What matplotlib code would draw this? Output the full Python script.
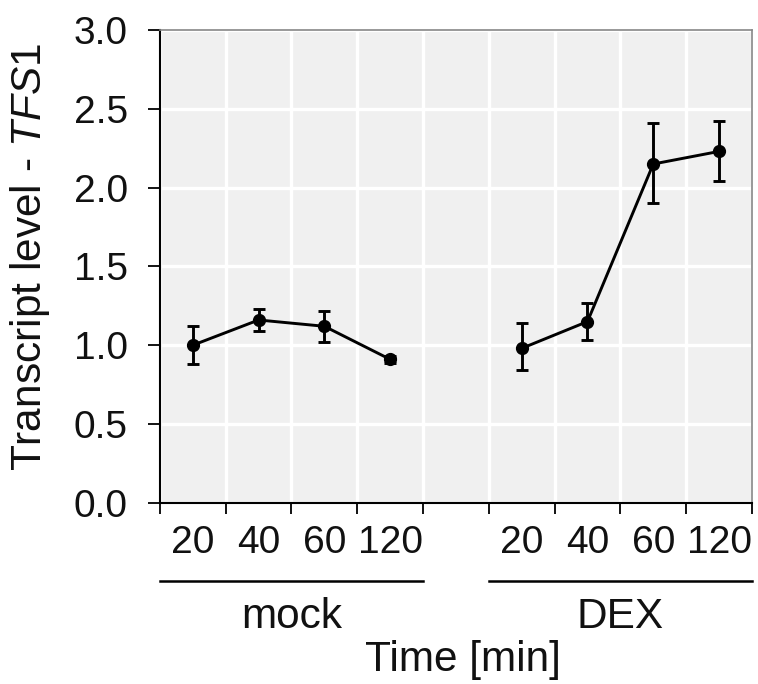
"""Transcript level of TFS1 after mock / DEX treatment, time course."""

import matplotlib

matplotlib.use("Agg")
import matplotlib.pyplot as plt

TIMES = ["20", "40", "60", "120"]
GROUPS = ["mock", "DEX"]
MOCK_MEAN = [1.00, 1.16, 1.12, 0.91]
MOCK_LO = [0.88, 1.09, 1.02, 0.89]
MOCK_HI = [1.12, 1.23, 1.22, 0.93]
DEX_MEAN = [0.98, 1.15, 2.15, 2.23]
DEX_LO = [0.84, 1.03, 1.90, 2.04]
DEX_HI = [1.14, 1.27, 2.41, 2.42]

FONT = "Liberation Sans"
plt.rcParams["font.family"] = [FONT, "DejaVu Sans"]
plt.rcParams["mathtext.fontset"] = "custom"
plt.rcParams["mathtext.rm"] = FONT
plt.rcParams["mathtext.it"] = FONT + ":italic"
TXT = "#111111"


def main() -> None:
    fig = plt.figure(figsize=(7.58, 6.84), dpi=100)
    ax = fig.add_axes([0.211, 0.265, 0.781, 0.691])
    ax.set_facecolor("#f0f0f0")

    n = len(TIMES)
    series = [(MOCK_MEAN, MOCK_LO, MOCK_HI), (DEX_MEAN, DEX_LO, DEX_HI)]
    centers = []
    for g, (mean, lo, hi) in enumerate(series):
        xs = [g * (n + 1) + i + 0.5 for i in range(n)]
        centers += xs
        yerr = [[m - l for m, l in zip(mean, lo)], [h - m for m, h in zip(mean, hi)]]
        ax.errorbar(xs, mean, yerr=yerr, color="black", marker="o", markersize=8.5,
                    linewidth=2.1, elinewidth=2.1, capsize=4, capthick=2.1, zorder=3)

    ax.set_xlim(0, 2 * n + 1)
    ax.set_ylim(0, 3.0)
    ax.set_xticks(range(0, 2 * n + 2))
    ax.set_xticklabels([])
    ax.set_xticks(centers, minor=True)
    ax.set_xticklabels(TIMES * 2, minor=True, fontsize=28, color=TXT)
    ax.tick_params(axis="x", which="minor", length=0, pad=16)
    ax.tick_params(axis="x", which="major", length=8, width=1.3, direction="out")
    ax.set_yticks([0, 0.5, 1.0, 1.5, 2.0, 2.5, 3.0])
    ax.set_yticklabels([f"{v:.1f}" for v in ax.get_yticks()], fontsize=28, color=TXT)
    ax.tick_params(axis="y", length=9, width=1.3, pad=14)

    ax.grid(True, which="major", color="white", linewidth=2.4)
    ax.set_axisbelow(True)
    for side in ("left", "bottom"):
        ax.spines[side].set_linewidth(1.5)
        ax.spines[side].set_color("black")
    for side in ("top", "right"):
        ax.spines[side].set_linewidth(1.2)
        ax.spines[side].set_color("#888888")

    ax.set_ylabel("Transcript level - $\\mathit{TFS1}$", fontsize=30.5, color=TXT)
    ax.yaxis.set_label_coords(-0.182, 0.521)

    # group brackets under the time labels
    trans = ax.get_xaxis_transform()
    for g, name in enumerate(GROUPS):
        x0 = g * (n + 1)
        ax.plot([x0, x0 + n], [-0.165, -0.165], transform=trans, color="black",
                linewidth=1.8, clip_on=False)
        ax.text(x0 + n / 2, -0.264, name, transform=trans, ha="center", va="baseline",
                fontsize=30.5, color=TXT)
    ax.text(4.6, -0.357, "Time [min]", transform=trans, ha="center", va="baseline",
            fontsize=30.5, color=TXT)

    fig.savefig("out.png", dpi=100)


if __name__ == "__main__":
    main()
